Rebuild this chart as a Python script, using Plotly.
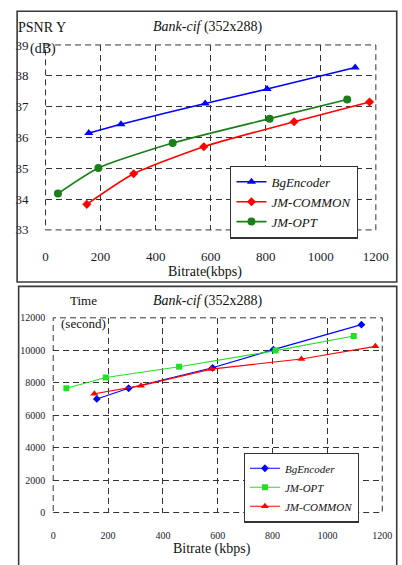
import plotly.graph_objects as go

# ---------------- data: top chart (PSNR Y) ----------------
bg_rate_top = [157, 274, 580, 805, 1125]
bg_psnr = [36.14, 36.43, 37.10, 37.57, 38.27]
jmc_rate_top = [150, 320, 575, 903, 1177]
jmc_psnr = [33.83, 34.82, 35.70, 36.51, 37.15]
jmo_rate_top = [45, 192, 462, 814, 1096]
jmo_psnr = [34.18, 35.01, 35.82, 36.61, 37.23]

# ---------------- data: bottom chart (Time) ----------------
bg_rate_bot = [159, 275, 581, 803, 1124]
bg_time = [7000, 7660, 8920, 10040, 11580]
jmo_rate_bot = [48, 192, 459, 811, 1096]
jmo_time = [7660, 8320, 8980, 9980, 10880]
jmc_rate_bot = [150, 320, 576, 905, 1175]
jmc_time = [7320, 7820, 8840, 9460, 10240]

x_ticks = [0, 200, 400, 600, 800, 1000, 1200]
x_labels = ["0", "200", "400", "600", "800", "1000", "1200"]
psnr_ticks = [33, 34, 35, 36, 37, 38, 39]
psnr_labels = ["33", "34", "35", "36", "37", "38", "39"]
time_ticks = [0, 2000, 4000, 6000, 8000, 10000, 12000]
time_labels = ["0", "2000", "4000", "6000", "8000", "10000", "12000"]

W, H = 402, 565
SERIF = "Liberation Serif"

fig = go.Figure()

# top chart traces
fig.add_trace(go.Scatter(x=bg_rate_top, y=bg_psnr, name="<i>BgEncoder</i>", mode="lines+markers",
                         line=dict(color="#0000ff", width=1.6, shape="spline", smoothing=0.6),
                         marker=dict(symbol="triangle-up", size=8, color="#0000ff"),
                         xaxis="x", yaxis="y", legend="legend"))
fig.add_trace(go.Scatter(x=jmc_rate_top, y=jmc_psnr, name="<i>JM-COMMON</i>", mode="lines+markers",
                         line=dict(color="#ff0000", width=1.6, shape="spline", smoothing=0.6),
                         marker=dict(symbol="diamond", size=7, color="#ff0000"),
                         xaxis="x", yaxis="y", legend="legend"))
fig.add_trace(go.Scatter(x=jmo_rate_top, y=jmo_psnr, name="<i>JM-OPT</i>", mode="lines+markers",
                         line=dict(color="#1a7f1a", width=1.6, shape="spline", smoothing=0.6),
                         marker=dict(symbol="circle", size=8, color="#1a7f1a"),
                         xaxis="x", yaxis="y", legend="legend"))

# bottom chart traces
fig.add_trace(go.Scatter(x=bg_rate_bot, y=bg_time, name="<i>BgEncoder</i>", mode="lines+markers",
                         line=dict(color="#0000ff", width=1.1),
                         marker=dict(symbol="diamond", size=6, color="#0000ff"),
                         xaxis="x2", yaxis="y2", legend="legend2"))
fig.add_trace(go.Scatter(x=jmo_rate_bot, y=jmo_time, name="<i>JM-OPT</i>", mode="lines+markers",
                         line=dict(color="#22e022", width=1.1),
                         marker=dict(symbol="square", size=6, color="#22e022"),
                         xaxis="x2", yaxis="y2", legend="legend2"))
fig.add_trace(go.Scatter(x=jmc_rate_bot, y=jmc_time, name="<i>JM-COMMON</i>", mode="lines+markers",
                         line=dict(color="#ff0000", width=1.1),
                         marker=dict(symbol="triangle-up", size=7, color="#ff0000"),
                         xaxis="x2", yaxis="y2", legend="legend2"))

def px_x(p):
    return p / W

def px_y(p):
    return 1 - p / H

grid_common = dict(showgrid=True, gridcolor="#333333", gridwidth=1, griddash="6px,4px",
                   zeroline=False, showline=False, ticks="", fixedrange=True)

fig.update_layout(
    width=W, height=H,
    margin=dict(l=0, r=0, t=0, b=0),
    paper_bgcolor="white", plot_bgcolor="white",
    font=dict(family=SERIF, color="#111111"),
    xaxis=dict(domain=[px_x(44.3), px_x(388.3)], range=[0, 1200], tickvals=x_ticks, ticktext=x_labels,
               tickfont=dict(size=13, family=SERIF, color="#1a1a2a"), ticklabelstandoff=17,
               anchor="y", **grid_common),
    yaxis=dict(domain=[px_y(229), px_y(39)], range=[33, 39], tickvals=psnr_ticks, ticktext=psnr_labels,
               tickfont=dict(size=13, family=SERIF, color="#1a1a2a"), ticklabelstandoff=16,
               anchor="x", **grid_common),
    xaxis2=dict(domain=[px_x(52.3), px_x(395)], range=[0, 1200], tickvals=x_ticks, ticktext=x_labels,
                tickfont=dict(size=10, family=SERIF, color="#1a1a2a"), ticklabelstandoff=15,
                anchor="y2", **grid_common),
    yaxis2=dict(domain=[px_y(519.3), px_y(319.3)], range=[0, 12000], tickvals=time_ticks, ticktext=time_labels,
                tickfont=dict(size=10, family=SERIF, color="#1a1a2a"), ticklabelstandoff=7,
                anchor="x2", **grid_common),
    legend=dict(x=px_x(236.7), y=px_y(163), xanchor="left", yanchor="top",
                bgcolor="white", bordercolor="#333333", borderwidth=1.2,
                font=dict(size=13, family=SERIF, color="#111111"), itemwidth=30,
                tracegroupgap=0),
    legend2=dict(x=px_x(250.7), y=px_y(457.7), xanchor="left", yanchor="top",
                 bgcolor="white", bordercolor="#333333", borderwidth=1.2,
                 font=dict(size=11, family=SERIF, color="#111111"), itemwidth=30,
                 tracegroupgap=0),
    showlegend=True,
)

# dashed plot-area borders
for xr, yr in (("x domain", "y domain"), ("x2 domain", "y2 domain")):
    fig.add_shape(type="rect", xref=xr, yref=yr, x0=0, x1=1, y0=0, y1=1,
                  line=dict(color="#333333", width=1, dash="6px,4px"), layer="below")

# outer panel frames
fig.add_shape(type="rect", xref="paper", yref="paper", x0=px_x(14.7), x1=1.02,
              y0=px_y(282.5), y1=px_y(4.3), line=dict(color="#3a3a3a", width=1.6))
fig.add_shape(type="rect", xref="paper", yref="paper", x0=px_x(16.3), x1=1.02,
              y0=-0.05, y1=px_y(287), line=dict(color="#3a3a3a", width=1.6))

def ann(text, x, y, size, xanchor="center"):
    fig.add_annotation(text=text, xref="paper", yref="paper", x=px_x(x), y=px_y(y),
                       xanchor=xanchor, yanchor="middle", showarrow=False,
                       font=dict(size=size, family=SERIF, color="#111111"))

# top chart texts
ann("PSNR Y", 14, 21, 14, "left")
ann("<i>Bank-cif</i> (352x288)", 213, 21, 14)
ann("(dB)", 26, 43, 14, "left")
ann("Bitrate(kbps)", 210, 272, 14)

# bottom chart texts
ann("Time", 84, 302, 13)
ann("(second)", 84, 325, 13)
ann("<i>Bank-cif</i> (352x288)", 214, 302, 14)
ann("Bitrate (kbps)", 217.5, 556.5, 14)

fig.write_html("out.html", post_script="document.body.style.margin='0';",
               config={"displayModeBar": False})
